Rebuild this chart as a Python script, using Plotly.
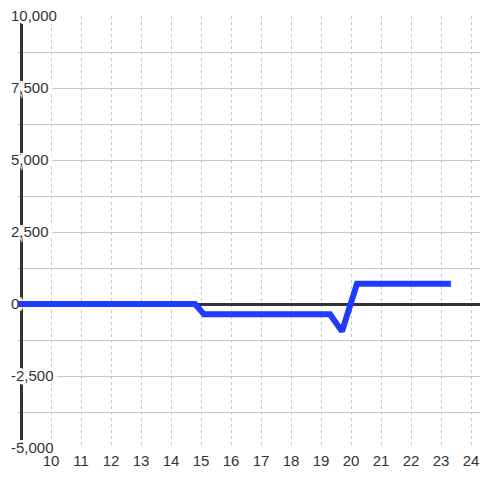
import plotly.graph_objects as go

# data
x_vals = [8.9, 14.8, 15.1, 19.3, 19.7, 20.2, 23.33]
y_vals = [0, 0, -360, -360, -950, 700, 700]

x_tick_vals = [10, 11, 12, 13, 14, 15, 16, 17, 18, 19, 20, 21, 22, 23, 24]
x_tick_text = [str(v) for v in x_tick_vals]
y_tick_vals = [-5000, -2500, 0, 2500, 5000, 7500, 10000]
y_tick_text = ["-5,000", "-2,500", "0", "2,500", "5,000", "7,500", "10,000"]

x_range = [8.9, 24.3]
y_range = [-5000, 10000]
y_axis_at = 9

fig = go.Figure()
fig.add_trace(go.Scatter(
    x=x_vals, y=y_vals, mode="lines",
    line=dict(color="#1e3cff", width=6),
    showlegend=False, hoverinfo="skip",
))

grid = "#c8c8c8"
font = dict(family="Liberation Sans, Arial", size=15, color="#333")
halo = ", ".join(
    f"{dx}px {dy}px 0 #fff"
    for dx, dy in [(-3, 0), (3, 0), (0, -3), (0, 3), (-2, -2), (2, 2), (-2, 2), (2, -2),
                   (-4, 0), (4, 0), (-4, -2), (4, 2), (-4, 2), (4, -2)]
)
fig.update_layout(
    width=480, height=480,
    margin=dict(l=18, r=0, t=16, b=32),
    paper_bgcolor="white", plot_bgcolor="white",
    xaxis=dict(
        range=x_range, tickvals=x_tick_vals, ticktext=x_tick_text,
        automargin=False,
        showgrid=True, gridcolor=grid, gridwidth=1, griddash="3px,3px",
        zeroline=False, showline=False, ticks="",
        ticklabelstandoff=2,
        tickfont=font,
    ),
    yaxis=dict(
        range=y_range, tickvals=y_tick_vals, ticktext=y_tick_text,
        automargin=False,
        anchor="free",
        position=(y_axis_at - x_range[0]) / (x_range[1] - x_range[0]),
        showline=True, linecolor="#333", linewidth=3,
        showgrid=True, gridcolor=grid, gridwidth=1,
        minor=dict(dtick=1250, tick0=0, showgrid=True, gridcolor=grid, gridwidth=1),
        zeroline=True, zerolinecolor="#333", zerolinewidth=3,
        ticks="", layer="below traces",
        ticklabelposition="inside", ticklabelstandoff=-12,
        ticklabeloverflow="allow",
        tickfont=dict(font, shadow=halo),
    ),
)

fig.write_html(
    "out.html",
    config={"displayModeBar": False},
    post_script="document.body.style.margin='0';document.body.style.padding='0';",
)
